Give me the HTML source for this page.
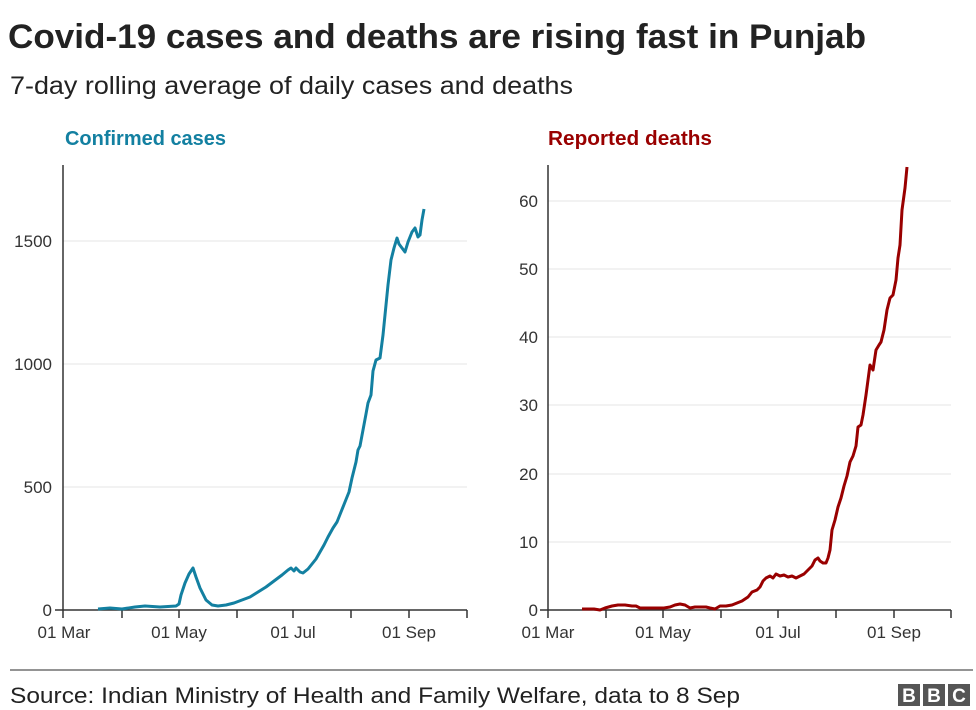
<!DOCTYPE html>
<html><head><meta charset="utf-8"><style>
body{margin:0;background:#fff;}
svg{display:block;font-family:"Liberation Sans Narrow","Liberation Sans",sans-serif;}
</style></head><body>
<svg width="976" height="710" viewBox="0 0 976 710">
<text x="8" y="48" font-size="34" font-weight="bold" fill="#222" textLength="858" lengthAdjust="spacingAndGlyphs">Covid-19 cases and deaths are rising fast in Punjab</text>
<text x="10" y="94" font-size="25" fill="#222" textLength="563" lengthAdjust="spacingAndGlyphs">7-day rolling average of daily cases and deaths</text>
<text x="65" y="145" font-size="20" font-weight="bold" fill="#1380A1" textLength="161" lengthAdjust="spacingAndGlyphs">Confirmed cases</text>
<text x="548" y="145" font-size="20" font-weight="bold" fill="#990000" textLength="164" lengthAdjust="spacingAndGlyphs">Reported deaths</text>

<g stroke="#e6e6e6" stroke-width="1">
<line x1="63" y1="241" x2="467" y2="241"/><line x1="63" y1="364" x2="467" y2="364"/><line x1="63" y1="487" x2="467" y2="487"/>
<line x1="548" y1="201" x2="951" y2="201"/><line x1="548" y1="269" x2="951" y2="269"/><line x1="548" y1="337" x2="951" y2="337"/><line x1="548" y1="405" x2="951" y2="405"/><line x1="548" y1="474" x2="951" y2="474"/><line x1="548" y1="542" x2="951" y2="542"/>
</g>
<g stroke="#333" stroke-width="1.5" fill="none">
<line x1="63" y1="165" x2="63" y2="618"/><line x1="55" y1="610" x2="467" y2="610"/>
<line x1="122" y1="610" x2="122" y2="618"/><line x1="179" y1="610" x2="179" y2="618"/><line x1="237" y1="610" x2="237" y2="618"/><line x1="293" y1="610" x2="293" y2="618"/><line x1="351" y1="610" x2="351" y2="618"/><line x1="409" y1="610" x2="409" y2="618"/><line x1="467" y1="610" x2="467" y2="618"/>
<line x1="548" y1="165" x2="548" y2="618"/><line x1="540" y1="610" x2="951" y2="610"/>
<line x1="606" y1="610" x2="606" y2="618"/><line x1="663" y1="610" x2="663" y2="618"/><line x1="721" y1="610" x2="721" y2="618"/><line x1="778" y1="610" x2="778" y2="618"/><line x1="836" y1="610" x2="836" y2="618"/><line x1="894" y1="610" x2="894" y2="618"/><line x1="951" y1="610" x2="951" y2="618"/>
</g>
<g font-size="17" fill="#333" font-family="Liberation Sans, sans-serif">
<g text-anchor="end">
<text x="52" y="616">0</text><text x="52" y="493">500</text><text x="52" y="370">1000</text><text x="52" y="247">1500</text>
<text x="538" y="616">0</text><text x="538" y="548">10</text><text x="538" y="480">20</text><text x="538" y="411">30</text><text x="538" y="343">40</text><text x="538" y="275">50</text><text x="538" y="207">60</text>
</g>
<g text-anchor="middle">
<text x="64" y="638">01 Mar</text><text x="179" y="638">01 May</text><text x="293" y="638">01 Jul</text><text x="409" y="638">01 Sep</text>
<text x="548" y="638">01 Mar</text><text x="663" y="638">01 May</text><text x="778" y="638">01 Jul</text><text x="894" y="638">01 Sep</text>
</g></g>

<polyline fill="none" stroke="#1380A1" stroke-width="3" stroke-linejoin="round" points="98,609 110,608 122,609 135,607 145,606 160,607 176,606 179,604 181,595 185,583 189,574 193,568 196,577 200,588 206,600 212,605 218,606 226,605 234,603 242,600 250,597 258,592 266,587 274,581 282,575 288,570 291,568 294,571 296,568 300,572 303,573 308,569 312,564 316,559 320,552 324,545 328,537 333,528 337,522 341,512 345,502 349,492 352,478 356,462 358,450 360,446 363,430 366,414 368,403 371,395 373,371 376,360 380,358 383,335 386,305 388,285 391,260 394,248 397,238 399,244 402,248 405,252 408,242 412,232 415,228 418,237 420,235 422,220 424,209"/>
<polyline fill="none" stroke="#990000" stroke-width="3" stroke-linejoin="round" points="582,609 594,609 600,610 605,608 612,606 618,605 625,605 632,606 636,606 640,608 646,608 652,608 658,608 664,608 670,607 675,605 680,604 685,605 690,608 695,607 700,607 706,607 710,608 715,609 720,606 726,606 732,605 737,603 742,601 748,597 752,592 757,590 760,587 763,581 766,578 770,576 773,578 776,574 780,576 784,575 788,577 792,576 796,578 800,576 804,574 808,570 812,566 815,560 818,558 820,561 823,563 826,563 828,558 830,550 832,530 835,520 838,507 841,498 844,486 847,476 850,462 853,456 856,446 858,427 861,425 863,415 866,395 870,365 873,370 876,350 879,345 881,342 884,330 887,310 890,298 893,295 896,280 898,258 900,245 902,210 905,188 907,167"/>

<line x1="10" y1="670" x2="973" y2="670" stroke="#555" stroke-width="1.2"/>
<text x="10" y="703" font-size="22" fill="#222" font-family="Liberation Sans, sans-serif" textLength="730" lengthAdjust="spacingAndGlyphs">Source: Indian Ministry of Health and Family Welfare, data to 8 Sep</text>
<g fill="#555"><rect x="898" y="684" width="22" height="22"/><rect x="923" y="684" width="22" height="22"/><rect x="948" y="684" width="22" height="22"/></g>
<g fill="#fff" font-size="19" font-weight="bold" text-anchor="middle" font-family="Liberation Sans, sans-serif"><text x="909" y="702">B</text><text x="934" y="702">B</text><text x="959" y="702">C</text></g>
</svg>
</body></html>
